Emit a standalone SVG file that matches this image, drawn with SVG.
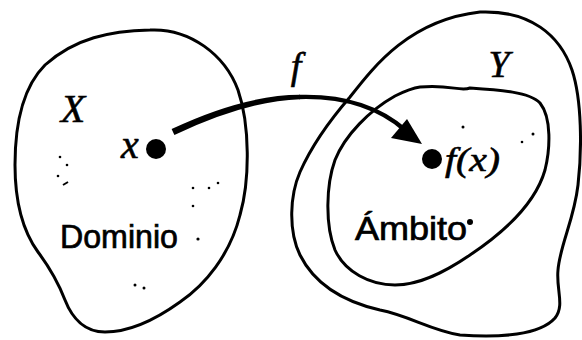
<svg xmlns="http://www.w3.org/2000/svg" width="582" height="340" viewBox="0 0 582 340">
<style>
.blob{fill:none;stroke:#000;stroke-width:3;stroke-linejoin:round}
.it{font-family:"Liberation Serif",serif;font-style:italic;fill:#000;stroke:#000;stroke-width:0.6}
.lab{font-family:"Liberation Sans",sans-serif;fill:#000;stroke:#000;stroke-width:0.7}
.pt{fill:#000}
.spk{fill:#000}
</style>
<rect width="582" height="340" fill="#fff"/>
<g id="domain">
<path class="blob" d="M150,30 C190,28 225,55 238,90 C250,125 250,180 240,215 C230,255 205,285 180,302 C155,320 130,332 105,332 C85,332 72,318 65,300 C58,282 50,268 38,252 C22,230 15,200 15,165 C15,120 25,85 45,65 C75,38 110,31 150,30 Z"/>
<text class="it" x="73" y="122" font-size="40" text-anchor="middle">X</text>
<text class="lab" x="60" y="248" font-size="33" textLength="118" lengthAdjust="spacingAndGlyphs">Dominio</text>
<g class="spk">
<circle cx="60" cy="157" r="1.3"/><circle cx="67" cy="165" r="1.3"/><circle cx="58" cy="176" r="1.3"/>
<path d="M63,185 L68,182" stroke="#000" stroke-width="2"/>
<circle cx="193" cy="188" r="1.3"/><circle cx="209" cy="188" r="1.3"/><circle cx="218" cy="183" r="1.3"/>
<circle cx="193" cy="206" r="1.3"/><circle cx="198" cy="239" r="1.6"/>
<circle cx="135" cy="285" r="1.5"/><circle cx="144" cy="288" r="1.5"/>
</g>
</g>
<g id="codomain">
<path class="blob" d="M480,12 C530,10 560,35 572,70 C582,100 582,150 578,185 C574,220 560,245 558,270 C556,290 565,305 555,318 C540,335 500,338 460,335 C430,330 410,316 380,310 C345,302 315,285 300,255 C288,230 290,195 300,172 C312,145 330,120 350,97 C375,65 410,20 480,12 Z"/>
<text class="it" x="499" y="77" font-size="38" text-anchor="middle">Y</text>
</g>
<g id="range">
<path class="blob" d="M420,87 C450,84 460,92 470,88 C500,90 530,92 540,103 C552,118 550,150 545,170 C535,205 500,235 470,255 C445,272 420,285 395,285 C370,285 345,272 335,250 C325,225 326,185 335,160 C345,135 370,110 395,96 C405,91 412,88 420,87 Z"/>
<text class="lab" x="355" y="240" font-size="33" textLength="112" lengthAdjust="spacingAndGlyphs">Ámbito</text>
<g class="spk">
<circle cx="470" cy="222" r="3"/>
<circle cx="463" cy="127" r="1.5"/><circle cx="522" cy="142" r="1.3"/><circle cx="533" cy="134" r="1.5"/>
</g>
</g>
<g id="point-x">
<circle class="pt" cx="156" cy="149" r="10"/>
<text class="it" x="130" y="158" font-size="40" text-anchor="middle">x</text>
</g>
<g id="point-fx">
<circle class="pt" cx="432" cy="159" r="10"/>
<text class="it" x="445" y="171" font-size="34" textLength="55" lengthAdjust="spacingAndGlyphs">f(x)</text>
</g>
<g id="connectors">
<path d="M171.6,129 Q244,95 300,94.8 L300,99.2 Q246,101 174.4,135 Z" fill="#000"/>
<path d="M299,97 Q365,95 405,130" fill="none" stroke="#000" stroke-width="4.4"/>
<polygon points="422,144 391,138 407,119" fill="#000"/>
<text class="it" x="296" y="79" font-size="38" text-anchor="middle">f</text>
</g>
</svg>
